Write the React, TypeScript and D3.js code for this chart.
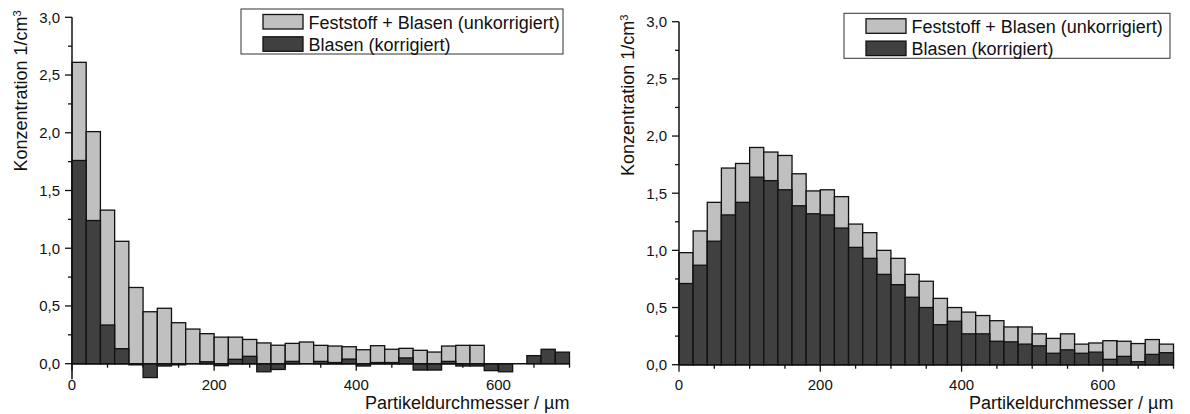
import React, { useEffect, useRef } from 'react'
import * as d3 from 'd3'

const BIN_WIDTH = 20
const binStarts = d3.range(0, 700, BIN_WIDTH)

// Left panel
const leftTotal = [
  2.61, 2.01, 1.33, 1.06, 0.66, 0.45, 0.48, 0.355, 0.30, 0.26,
  0.23, 0.23, 0.21, 0.18, 0.16, 0.176, 0.188, 0.159, 0.153, 0.147,
  0.121, 0.156, 0.125, 0.133, 0.116, 0.101, 0.153, 0.159, 0.159, 0,
  0, 0, 0, 0, 0,
]
const leftBubbles = [
  1.76, 1.24, 0.335, 0.13, -0.01, -0.12, -0.02, -0.01, 0.0, 0.017,
  -0.017, 0.038, 0.064, -0.07, -0.05, 0.02, 0.0, 0.02, 0.01, 0.04,
  -0.02, 0.01, 0.01, 0.05, -0.055, -0.055, 0.02, -0.02, -0.02, -0.06,
  -0.07, 0, 0.07, 0.125, 0.10,
]

// Right panel
const rightTotal = [
  0.98, 1.17, 1.42, 1.72, 1.76, 1.90, 1.86, 1.83, 1.67, 1.52,
  1.53, 1.47, 1.23, 1.155, 1.00, 0.93, 0.79, 0.73, 0.58, 0.50,
  0.46, 0.43, 0.385, 0.33, 0.33, 0.27, 0.23, 0.27, 0.18, 0.19,
  0.21, 0.205, 0.185, 0.22, 0.18,
]
const rightBubbles = [
  0.71, 0.87, 1.08, 1.31, 1.42, 1.64, 1.61, 1.53, 1.39, 1.32,
  1.31, 1.195, 1.026, 0.93, 0.79, 0.70, 0.59, 0.50, 0.35, 0.38,
  0.27, 0.27, 0.205, 0.20, 0.18, 0.165, 0.10, 0.13, 0.10, 0.11,
  0.047, 0.073, 0.026, 0.09, 0.105,
]

const xLabelTicks = [0, 200, 400, 600]
const xMinorTicks = d3.range(0, 701, 50)
const yLabelTicks = [0, 0.5, 1, 1.5, 2, 2.5, 3]
const yMinorTicks = d3.range(0, 3.01, 0.25)

const seriesNames = ['Feststoff + Blasen (unkorrigiert)', 'Blasen (korrigiert)']
const colors = ['#c0c0c0', '#404040']

const FONT = '"Liberation Sans", Arial, sans-serif'

type Panel = {
  total: number[]
  bubbles: number[]
  x0: number
  x1: number
  yTop: number
  yZero: number
  yAxisMin: number
  legend: { x: number; y: number; w: number; h: number }
}

const panels: Panel[] = [
  {
    total: leftTotal,
    bubbles: leftBubbles,
    x0: 72, x1: 569.5, yTop: 17.3, yZero: 363.7, yAxisMin: -0.135,
    legend: { x: 241, y: 9, w: 322, h: 45 },
  },
  {
    total: rightTotal,
    bubbles: rightBubbles,
    x0: 679, x1: 1173.5, yTop: 21.7, yZero: 364.7, yAxisMin: 0,
    legend: { x: 844, y: 13.3, w: 326, h: 45 },
  },
]

const fmt = (v: number) => d3.format('.1f')(v).replace('.', ',')

function drawPanel(svg: d3.Selection<SVGSVGElement, unknown, null, undefined>, p: Panel) {
  const x = d3.scaleLinear().domain([0, 700]).range([p.x0, p.x1])
  const y = d3.scaleLinear().domain([0, 3]).range([p.yZero, p.yTop])
  const g = svg.append('g')

  // bars: total first, corrected bubbles over it
  ;[p.total, p.bubbles].forEach((vals, si) => {
    g.append('g')
      .selectAll('rect')
      .data(vals)
      .enter()
      .append('rect')
      .attr('x', (d, i) => x(binStarts[i]))
      .attr('width', x(BIN_WIDTH) - x(0))
      .attr('y', d => Math.min(y(d), y(0)))
      .attr('height', d => Math.abs(y(d) - y(0)))
      .attr('fill', colors[si])
      .attr('stroke', '#111')
      .attr('stroke-width', 1.3)
  })

  const axisColor = '#111'

  // y axis line
  g.append('line')
    .attr('x1', x(0)).attr('x2', x(0))
    .attr('y1', y(3)).attr('y2', y(p.yAxisMin))
    .attr('stroke', axisColor).attr('stroke-width', 1.5)

  // x axis line at zero
  g.append('line')
    .attr('x1', x(0)).attr('x2', x(700))
    .attr('y1', y(0)).attr('y2', y(0))
    .attr('stroke', axisColor).attr('stroke-width', 1.5)

  // y ticks
  g.selectAll('.ytick')
    .data(yMinorTicks)
    .enter()
    .append('line')
    .attr('x1', x(0))
    .attr('x2', d => x(0) - (Math.abs(d * 2 - Math.round(d * 2)) < 1e-6 ? 7 : 4))
    .attr('y1', d => y(d)).attr('y2', d => y(d))
    .attr('stroke', axisColor).attr('stroke-width', 1.3)

  g.selectAll('.ylabel')
    .data(yLabelTicks)
    .enter()
    .append('text')
    .attr('x', x(0) - 12)
    .attr('y', d => y(d))
    .attr('dy', '0.36em')
    .attr('text-anchor', 'end')
    .style('font-size', '15px')
    .attr('fill', '#111')
    .text(d => fmt(d))

  // x ticks
  g.selectAll('.xtick')
    .data(xMinorTicks)
    .enter()
    .append('line')
    .attr('x1', d => x(d)).attr('x2', d => x(d))
    .attr('y1', y(0))
    .attr('y2', d => y(0) + (d % 200 === 0 ? 7 : 4))
    .attr('stroke', axisColor).attr('stroke-width', 1.3)

  g.selectAll('.xlabel')
    .data(xLabelTicks)
    .enter()
    .append('text')
    .attr('x', d => x(d))
    .attr('y', 390)
    .attr('text-anchor', 'middle')
    .style('font-size', '15px')
    .attr('fill', '#111')
    .text(d => `${d}`)

  // axis titles
  g.append('text')
    .attr('x', x(700))
    .attr('y', 409)
    .attr('text-anchor', 'end')
    .style('font-size', '18px')
    .attr('fill', '#111')
    .text('Partikeldurchmesser / \u00b5m')

  const yTitle = g.append('text')
    .attr('transform', `translate(${x(0) - 45},${y(3) - 7}) rotate(-90)`)
    .attr('text-anchor', 'end')
    .style('font-size', '18px')
    .attr('fill', '#111')
  yTitle.append('tspan').text('Konzentration 1/cm')
  yTitle.append('tspan').attr('dy', '-0.55em').style('font-size', '11px').text('3')

  // legend
  const L = p.legend
  const lg = g.append('g').attr('transform', `translate(${L.x},${L.y})`)
  lg.append('rect')
    .attr('width', L.w).attr('height', L.h)
    .attr('fill', 'white').attr('stroke', '#333').attr('stroke-width', 1)

  seriesNames.forEach((name, i) => {
    const row = lg.append('g').attr('transform', `translate(22, ${5.5 + i * 22.3})`)
    row.append('rect')
      .attr('width', 40).attr('height', 14.5)
      .attr('fill', colors[i]).attr('stroke', '#111').attr('stroke-width', 1.3)
    row.append('text')
      .attr('x', 45.5).attr('y', 14)
      .style('font-size', '18px')
      .attr('fill', '#111')
      .text(name)
  })
}

export default function App() {
  const svgRef = useRef<SVGSVGElement>(null)

  useEffect(() => {
    document.body.style.margin = '0'
    if (!svgRef.current) return
    const svg = d3.select(svgRef.current)
    svg.selectAll('*').remove()
    panels.forEach(p => drawPanel(svg, p))
  }, [])

  return (
    <svg
      ref={svgRef}
      width={1190}
      height={414}
      style={{ display: 'block', background: 'white', fontFamily: FONT }}
    />
  )
}
